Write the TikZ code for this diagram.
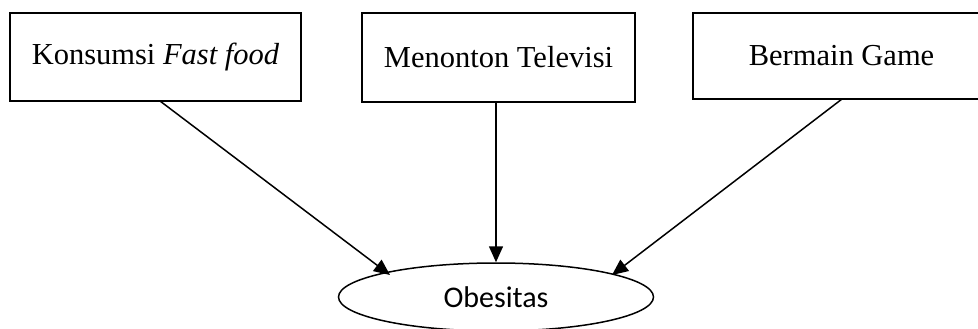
\documentclass[tikz,border=0pt]{standalone}
\usepackage{fontspec}
\setmainfont{Liberation Serif}
\newfontfamily\calib{Carlito}
\usetikzlibrary{shapes.geometric,arrows.meta}
\begin{document}
\begin{tikzpicture}[x=1pt,y=-1pt,
  boxstyle/.style={draw,line width=1.6pt,rectangle,inner sep=0pt,font=\fontsize{30.5}{33}\selectfont},
  arr/.style={line width=1.5pt,-{Triangle[length=16pt,width=14pt]}}]
\useasboundingbox (0,0) rectangle (978,329);
\clip (0,0) rectangle (978,329);
\node[boxstyle,minimum width=291pt,minimum height=88pt] (k) at (155.5,57) {Konsumsi \textit{Fast food}};
\node[boxstyle,minimum width=273pt,minimum height=89pt] (m) at (498.5,57.5) {Menonton Televisi};
\node[boxstyle,minimum width=297pt,minimum height=86pt] (b) at (841.5,56) {Bermain Game};
\node[draw,ellipse,line width=1.5pt,inner sep=0pt,minimum width=315pt,minimum height=68pt,font=\calib\fontsize{30}{33}\selectfont] (o) at (496,297) {Obesitas};
\coordinate (ks) at (160,101);
\coordinate (bs) at (842,99);
\draw[arr] (ks) -- (390,275);
\draw[arr] (m.south -| o.north) -- (o.north);
\draw[arr] (bs) -- (612,275);
\end{tikzpicture}
\end{document}
